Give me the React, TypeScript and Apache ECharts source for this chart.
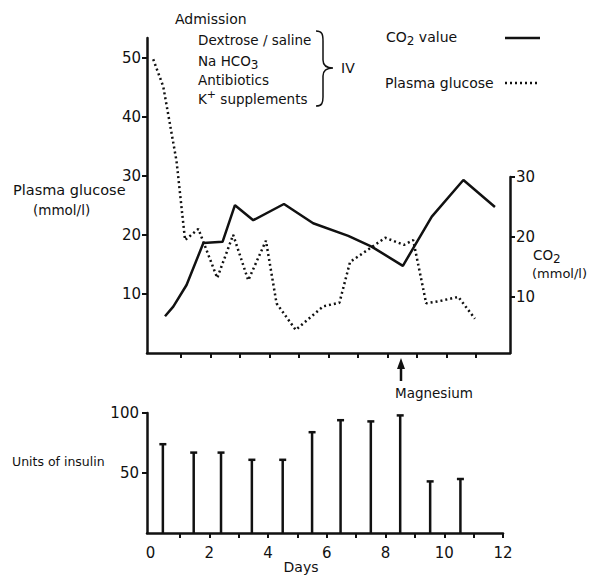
import React, { useEffect, useRef } from "react";
import * as echarts from "echarts";

// ---- data ----
const co2Days = [0.46, 0.74, 1.19, 1.76, 2.41, 2.83, 3.45, 4.49, 5.48, 6.67, 7.46, 8.52, 9.5, 10.57, 11.64];
const co2Values = [6.8, 8.4, 12.0, 19.0, 19.2, 25.3, 22.8, 25.5, 22.3, 20.2, 18.4, 15.2, 23.4, 29.5, 25.0];

const glucoseDays = [0.06, 0.4, 0.85, 1.14, 1.59, 2.23, 2.77, 3.28, 3.88, 4.24, 4.89, 5.82, 6.37, 6.73, 7.46, 7.92, 8.56, 8.87, 9.31, 9.78, 10.4, 10.96];
const glucoseValues = [49.7, 45.1, 32.5, 19.1, 21.0, 12.7, 20.0, 12.3, 19.0, 8.4, 3.9, 7.9, 8.5, 15.4, 17.9, 19.5, 18.3, 19.1, 8.4, 8.8, 9.5, 5.8];

const insulinDays = [0.42, 1.47, 2.4, 3.45, 4.5, 5.5, 6.47, 7.5, 8.5, 9.52, 10.55];
const insulinUnits = [74, 67, 67, 61, 61, 84, 94, 93, 98, 43, 45];

const glucoseTicks = [10, 20, 30, 40, 50];
const co2Ticks = [10, 20, 30];
const insulinTicks = [50, 100];
const topDayTicks = [1, 2, 3, 4, 5, 6, 7, 8, 9, 10, 11];
const bottomDayTicks = [1, 2, 3, 4, 5, 6, 7, 8, 9, 10, 11, 12];
const bottomDayLabels = [0, 2, 4, 6, 8, 10, 12];

const INK = "#111";
const FONT = "DejaVu Sans";

const BRACE =
  "M316,31 C322,31 323,34 323,41 L323,60 C323,65 326,68 333,68 C326,68 323,71 323,76 L323,97 C323,103 322,106 316,106";
let braceRegistered = false;
function registerBrace() {
  if (braceRegistered) return;
  echarts.graphic.registerShape("brace", echarts.graphic.extendPath(BRACE, {}) as any);
  braceRegistered = true;
}

const zip = (a: number[], b: number[]) => a.map((v, i) => [v, b[i]]);

function txt(text: string, x: number, y: number, fontSize: number, align = "left", rich?: any) {
  return {
    type: "text",
    x,
    y,
    silent: true,
    style: {
      text,
      fill: INK,
      fontFamily: FONT,
      fontSize,
      lineHeight: 20,
      align,
      verticalAlign: "middle",
      rich,
    },
  };
}

const subRich = { s: { fontSize: 12, lineHeight: 10, verticalAlign: "bottom", fontFamily: FONT, fill: INK } };
const supRich = { p: { fontSize: 11, lineHeight: 10, verticalAlign: "top", fontFamily: FONT, fill: INK } };

export default function App() {
  const ref = useRef<HTMLDivElement>(null);
  useEffect(() => {
    if (!ref.current) return;
    registerBrace();
    const chart = echarts.init(ref.current, null, { renderer: "svg" });
    const axisLine = { show: true, onZero: false, lineStyle: { color: INK, width: 2.5 } };
    const tickStyle = { color: INK, width: 2 };
    const labelStyle = { color: INK, fontFamily: FONT, fontSize: 15 };
    const option: any = {
      animation: false,
      backgroundColor: "#fff",
      textStyle: { fontFamily: FONT },
      grid: [
        { left: 147, top: 38, width: 363, height: 315 },
        { left: 147, top: 177, width: 363, height: 176 },
        { left: 147, top: 413, width: 356, height: 120 },
      ],
      xAxis: [
        {
          gridIndex: 0,
          type: "value",
          min: -0.15,
          max: 12.15,
          axisLine,
          axisTick: { show: true, customValues: topDayTicks, length: 5, lineStyle: tickStyle },
          axisLabel: { show: false },
          splitLine: { show: false },
        },
        { gridIndex: 1, type: "value", min: -0.15, max: 12.15, show: false },
        {
          gridIndex: 2,
          type: "value",
          min: -0.12,
          max: 12,
          axisLine,
          axisTick: { show: true, customValues: bottomDayTicks, length: 5, lineStyle: tickStyle },
          axisLabel: { ...labelStyle, customValues: bottomDayLabels, margin: 12 },
          splitLine: { show: false },
        },
      ],
      yAxis: [
        {
          gridIndex: 0,
          type: "value",
          position: "left",
          min: 0,
          max: 53.3,
          axisLine,
          axisTick: { show: true, customValues: glucoseTicks, length: 5, lineStyle: tickStyle },
          axisLabel: { ...labelStyle, customValues: glucoseTicks, margin: 6 },
          splitLine: { show: false },
        },
        {
          gridIndex: 1,
          type: "value",
          position: "right",
          min: 0.67,
          max: 30,
          axisLine,
          axisTick: { show: true, customValues: co2Ticks, length: 5, lineStyle: tickStyle },
          axisLabel: { ...labelStyle, customValues: co2Ticks, margin: 6 },
          splitLine: { show: false },
        },
        {
          gridIndex: 2,
          type: "value",
          position: "left",
          min: 0,
          max: 100,
          axisLine,
          axisTick: { show: true, customValues: insulinTicks, length: 5, lineStyle: tickStyle },
          axisLabel: { ...labelStyle, customValues: insulinTicks, margin: 8 },
          splitLine: { show: false },
        },
      ],
      series: [
        {
          name: "Plasma glucose",
          type: "line",
          xAxisIndex: 0,
          yAxisIndex: 0,
          data: zip(glucoseDays, glucoseValues),
          symbol: "none",
          silent: true,
          lineStyle: { color: INK, width: 2.5, type: [2, 3] },
        },
        {
          name: "CO2 value",
          type: "line",
          xAxisIndex: 1,
          yAxisIndex: 1,
          data: zip(co2Days, co2Values),
          symbol: "none",
          silent: true,
          lineStyle: { color: INK, width: 2.5 },
        },
        {
          name: "Units of insulin",
          type: "custom",
          xAxisIndex: 2,
          yAxisIndex: 2,
          encode: { x: 0, y: 1 },
          data: zip(insulinDays, insulinUnits),
          silent: true,
          renderItem: (_p: any, api: any) => {
            const base = api.coord([api.value(0), 0]);
            const top = api.coord([api.value(0), api.value(1)]);
            return {
              type: "group",
              children: [
                {
                  type: "line",
                  shape: { x1: base[0], y1: base[1], x2: top[0], y2: top[1] },
                  style: { stroke: INK, lineWidth: 2.5 },
                },
                {
                  type: "line",
                  shape: { x1: top[0] - 3.5, y1: top[1], x2: top[0] + 3.5, y2: top[1] },
                  style: { stroke: INK, lineWidth: 2.5 },
                },
              ],
            };
          },
        },
      ],
      graphic: [
        txt("Admission", 175, 19, 14),
        txt("Dextrose / saline", 198, 40, 13.5),
        txt("Na HCO{s|3}", 198, 61, 13.5, "left", subRich),
        txt("Antibiotics", 198, 80, 13.5),
        txt("K{p|+} supplements", 198, 99, 13.5, "left", supRich),
        { type: "brace", x: 0, y: 0, silent: true, style: { stroke: INK, fill: "none", lineWidth: 1.5 } },
        txt("IV", 341, 68, 14),
        txt("CO{s|2} value", 386, 37, 14, "left", subRich),
        {
          type: "line",
          silent: true,
          shape: { x1: 505, y1: 38, x2: 540, y2: 38 },
          style: { stroke: INK, lineWidth: 2.5 },
        },
        txt("Plasma glucose", 385, 83, 14),
        {
          type: "line",
          silent: true,
          shape: { x1: 505, y1: 83, x2: 540, y2: 83 },
          style: { stroke: INK, lineWidth: 2.5, lineDash: [2, 3] },
        },
        txt("Plasma glucose", 13, 190, 14.5),
        txt("(mmol/l)", 33, 210, 13.5),
        txt("CO{s|2}", 533, 255, 13.5, "left", subRich),
        txt("(mmol/l)", 532, 273, 13),
        txt("Units of insulin", 12, 461, 12.5),
        txt("Days", 301, 567, 14, "center"),
        {
          type: "line",
          silent: true,
          shape: { x1: 401, y1: 381, x2: 401, y2: 366 },
          style: { stroke: INK, lineWidth: 2.5 },
        },
        {
          type: "polygon",
          silent: true,
          shape: { points: [[401, 358], [397, 369], [405, 369]] },
          style: { fill: INK },
        },
        txt("Magnesium", 395, 393, 13.5),
      ],
    };
    chart.setOption(option);
    return () => chart.dispose();
  }, []);
  return (
    <div
      ref={ref}
      style={{ position: "fixed", left: 0, top: 0, width: 595, height: 575, background: "#fff" }}
    />
  );
}
